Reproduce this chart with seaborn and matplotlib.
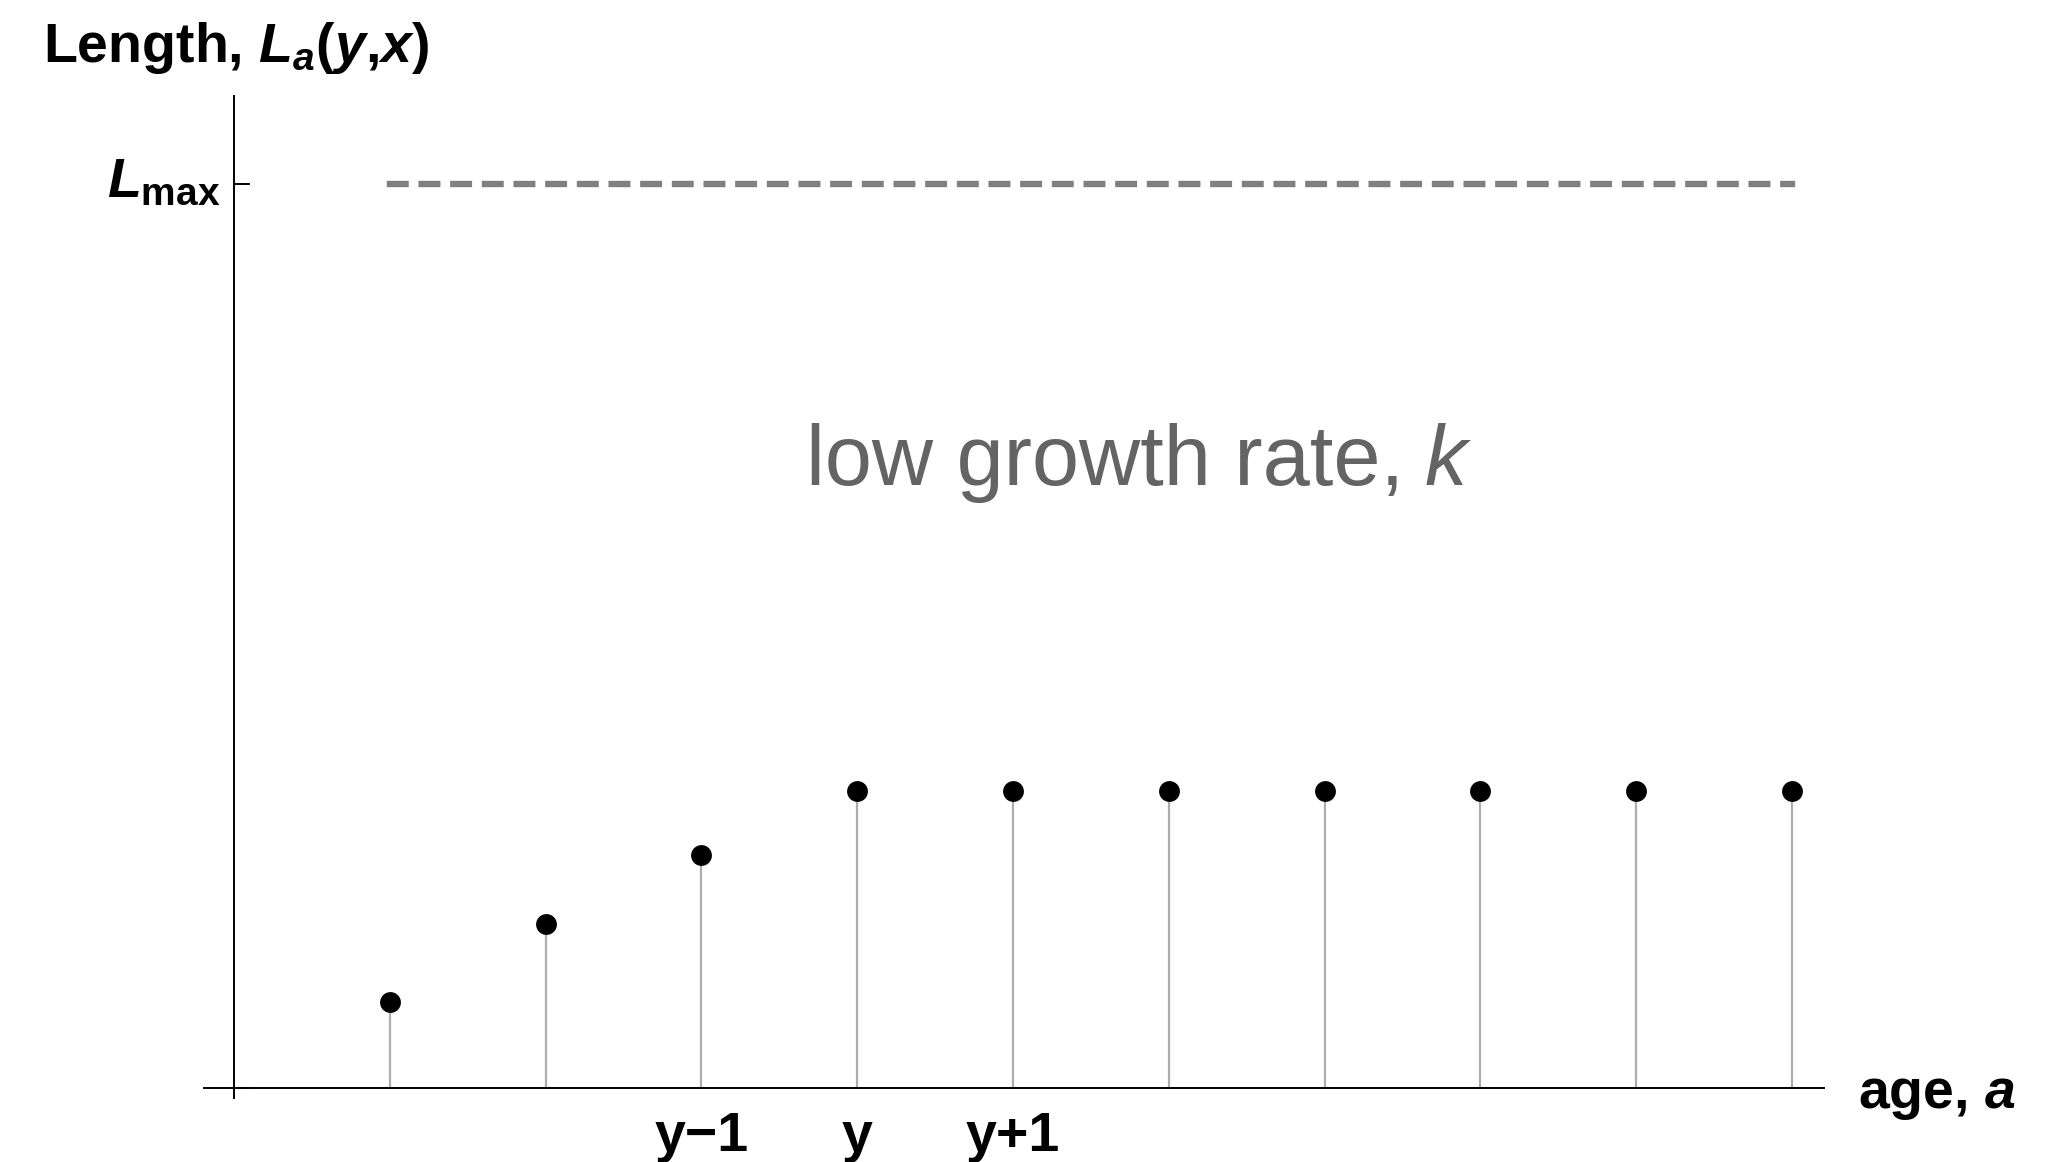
import matplotlib
matplotlib.use('Agg')
import matplotlib.pyplot as plt
import pandas as pd
import seaborn as sns

# ---- data ----
ages = [1, 2, 3, 4, 5, 6, 7, 8, 9, 10]
lengths = [0.095, 0.181, 0.258, 0.329, 0.329, 0.329, 0.329, 0.329, 0.329, 0.329]
L_max = 1.0
xtick_pos = [3, 4, 5]
xtick_labels = ['y\u22121', 'y', 'y+1']
ytick_pos = [0, L_max]
ytick_labels = ['', r'$L_{\mathrm{max}}$']
ylabel_text = r'Length, $L_a(y{,}x)$'
xlabel_text = r'age, $a$'
note_text = 'low growth rate,'
note_symbol = 'k'

sns.set_theme(style='white')
plt.rcParams['font.family'] = ['Liberation Sans', 'DejaVu Sans']
plt.rcParams['mathtext.fontset'] = 'custom'
plt.rcParams['mathtext.rm'] = 'Liberation Sans:bold'
plt.rcParams['mathtext.it'] = 'Liberation Sans:italic:bold'
plt.rcParams['mathtext.bf'] = 'Liberation Sans:bold'
plt.rcParams['mathtext.sf'] = 'Liberation Sans:bold'

W, H = 2065, 1162
fig = plt.figure(figsize=(W / 100, H / 100), dpi=100)
fig.patch.set_facecolor('white')
ax = fig.add_axes([204 / W, 1 - 1098 / H, (1824 - 204) / W, (1098 - 96) / H])

df = pd.DataFrame({'age': ages, 'length': lengths})

# stems
ax.vlines(df['age'], 0, df['length'], colors='#adadad', lw=1.6, zorder=1)
# points
sns.scatterplot(data=df, x='age', y='length', s=225, color='black',
                linewidth=0, ax=ax, zorder=4)
# asymptote
lw = 4.6
ax.plot([ages[0], ages[-1]], [L_max, L_max], color='#808080', lw=lw,
        linestyle=(0, (11.2 / lw, 11.6 / lw)), dash_capstyle='projecting',
        zorder=2)

ax.set_xlim(-0.193, 10.205)
ax.set_ylim(-0.011, 1.097)

for s in ['top', 'right']:
    ax.spines[s].set_visible(False)
for s in ['left', 'bottom']:
    ax.spines[s].set_position(('data', 0))
    ax.spines[s].set_color('black')
    ax.spines[s].set_linewidth(1.4)
    ax.spines[s].set_zorder(3)

ax.set_xticks(xtick_pos, xtick_labels)
ax.set_yticks(ytick_pos, ytick_labels)
ax.tick_params(axis='both', which='major', direction='in', length=11.5,
               width=1.4, color='black', labelsize=40, labelcolor='black',
               left=True, bottom=True, top=False, right=False)
ax.tick_params(axis='x', pad=16.5)
ax.tick_params(axis='y', pad=10)
for lbl in ax.get_xticklabels() + ax.get_yticklabels():
    lbl.set_fontweight('bold')
for lbl in ax.get_yticklabels():
    lbl.set_va('center')
ax.set_xlabel('')
ax.set_ylabel('')
ax.grid(False)

fig.text(43 / W, 1 - 62 / H, ylabel_text, fontsize=40, fontweight='bold',
         ha='left', va='baseline', color='black')
fig.text(1858 / W, 1 - 1108 / H, xlabel_text, fontsize=40, fontweight='bold',
         ha='left', va='baseline', color='black')

t1 = fig.text(806 / W, 1 - 485 / H, note_text, fontsize=61, color='#646464',
              ha='left', va='baseline')
ax.annotate(note_symbol, xy=(1, 0), xycoords=t1, xytext=(15, 0),
            textcoords='offset points', ha='left', va='bottom', fontsize=61,
            fontstyle='italic', color='#646464')

fig.savefig('out.png', dpi=100, facecolor='white')
